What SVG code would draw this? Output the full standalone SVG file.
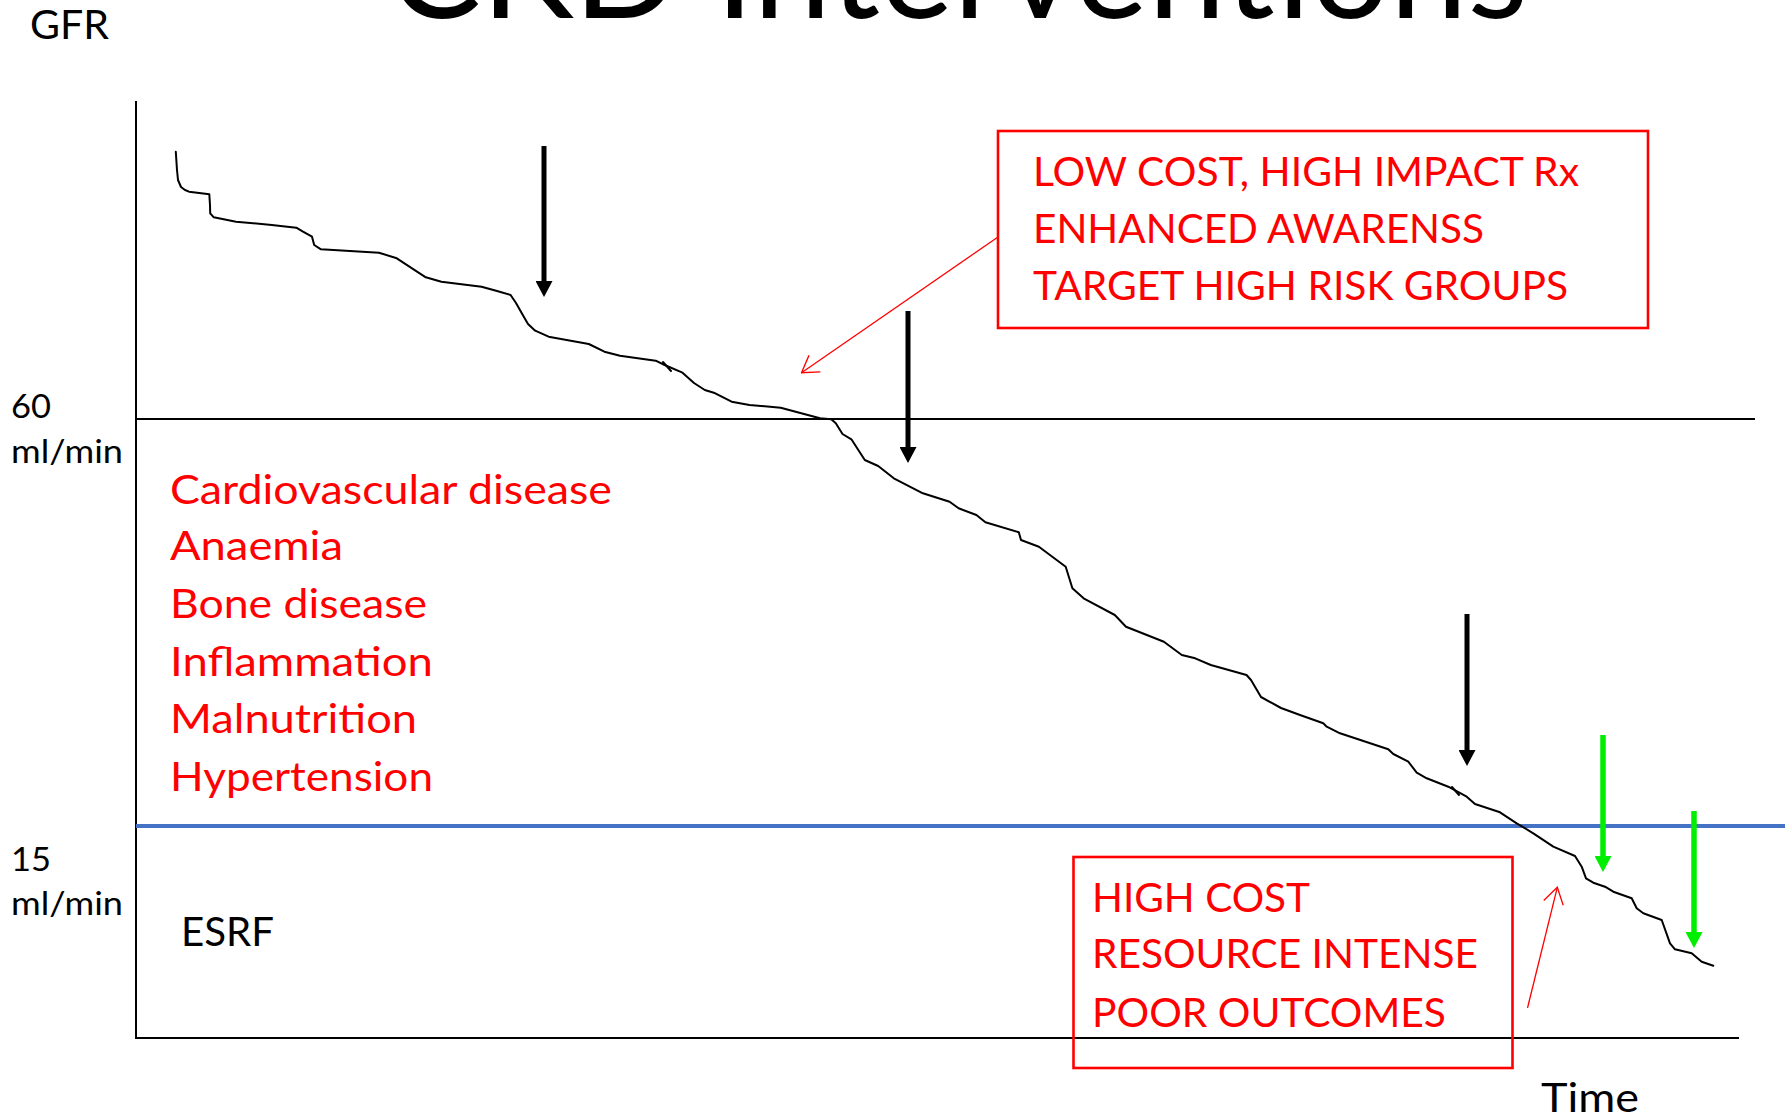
<svg xmlns="http://www.w3.org/2000/svg" width="1785" height="1120" viewBox="0 0 1785 1120">
<defs>
<style>
.lbl{font-family:Lato,"Liberation Sans",sans-serif;fill:#000}
.red{font-family:Lato,"Liberation Sans",sans-serif;fill:#FF0000;font-size:41px}
.ax{stroke:#000;stroke-width:2;fill:none}
.box{fill:none;stroke:#FF0000;stroke-width:2.6}
.blk{stroke:#000;stroke-width:5;fill:none}
.grn{stroke:#00EE00;stroke-width:5.5;fill:none}
.thin{stroke:#FF0000;stroke-width:1.3;fill:none}
</style>
<marker id="hb" viewBox="0 0 16 17" refX="8" refY="8.5" markerWidth="16" markerHeight="17" markerUnits="userSpaceOnUse" orient="auto"><path d="M0,0 L16,8.5 L0,17 z" fill="#000"/></marker>
<marker id="hg" viewBox="0 0 16 17" refX="8" refY="8.5" markerWidth="16" markerHeight="17" markerUnits="userSpaceOnUse" orient="auto"><path d="M0,0 L16,8.5 L0,17 z" fill="#00EE00"/></marker>
<marker id="hr" viewBox="0 0 18 22" refX="17" refY="11" markerWidth="18" markerHeight="22" markerUnits="userSpaceOnUse" orient="auto"><path d="M1,1 L17,11 L1,21" fill="none" stroke="#FF0000" stroke-width="1.3"/></marker>
</defs>
<rect width="1785" height="1120" fill="#fff"/>

<g id="title"><text class="lbl" x="388" y="18" font-size="139" textLength="1140" lengthAdjust="spacingAndGlyphs">CKD Interventions</text></g>

<g id="axes">
<line class="ax" x1="136" y1="101" x2="136" y2="1039"/>
<line class="ax" x1="135" y1="1038" x2="1739" y2="1038"/>
<line class="ax" x1="136" y1="419" x2="1755" y2="419"/>
<line x1="136" y1="826" x2="1785" y2="826" stroke="#4472C4" stroke-width="4"/>
</g>

<g id="axis-labels">
<text class="lbl" x="30" y="38.5" font-size="41" textLength="79" lengthAdjust="spacingAndGlyphs">GFR</text>
<text class="lbl" x="11" y="418" font-size="32" textLength="40" lengthAdjust="spacingAndGlyphs">60</text>
<text class="lbl" x="11" y="463" font-size="32" textLength="112" lengthAdjust="spacingAndGlyphs">ml/min</text>
<text class="lbl" x="11" y="871" font-size="32" textLength="40" lengthAdjust="spacingAndGlyphs">15</text>
<text class="lbl" x="11" y="915" font-size="32" textLength="112" lengthAdjust="spacingAndGlyphs">ml/min</text>
<text class="lbl" x="181" y="946" font-size="41" textLength="93" lengthAdjust="spacingAndGlyphs">ESRF</text>
<text class="lbl" x="1541" y="1112" font-size="41" textLength="98" lengthAdjust="spacingAndGlyphs">Time</text>
</g>

<g id="complications">
<text class="red" x="170" y="504" textLength="442" lengthAdjust="spacingAndGlyphs">Cardiovascular disease</text>
<text class="red" x="170" y="560" textLength="173" lengthAdjust="spacingAndGlyphs">Anaemia</text>
<text class="red" x="170" y="618" textLength="257" lengthAdjust="spacingAndGlyphs">Bone disease</text>
<text class="red" x="170" y="676" textLength="263" lengthAdjust="spacingAndGlyphs">Inflammation</text>
<text class="red" x="170" y="733" textLength="247" lengthAdjust="spacingAndGlyphs">Malnutrition</text>
<text class="red" x="170" y="791" textLength="263" lengthAdjust="spacingAndGlyphs">Hypertension</text>
</g>

<g id="box-early">
<rect class="box" x="998" y="131" width="650" height="197"/>
<text class="red" x="1033" y="186" textLength="546" lengthAdjust="spacingAndGlyphs">LOW COST, HIGH IMPACT Rx</text>
<text class="red" x="1033" y="243" textLength="451" lengthAdjust="spacingAndGlyphs">ENHANCED AWARENSS</text>
<text class="red" x="1033" y="300" textLength="535" lengthAdjust="spacingAndGlyphs">TARGET HIGH RISK GROUPS</text>
</g>

<g id="box-late">
<rect class="box" x="1073.5" y="857" width="439" height="211"/>
<text class="red" x="1092" y="912" textLength="218" lengthAdjust="spacingAndGlyphs">HIGH COST</text>
<text class="red" x="1092" y="968" textLength="386" lengthAdjust="spacingAndGlyphs">RESOURCE INTENSE</text>
<text class="red" x="1092" y="1027" textLength="354" lengthAdjust="spacingAndGlyphs">POOR OUTCOMES</text>
</g>

<g id="gfr-curve" fill="none" stroke="#000" stroke-width="2" stroke-linejoin="round" stroke-linecap="round">
<path d="M175.8,151.7 L177,170 L178,180 L181,187 L185,190 L189,191.7 L209.3,194.3 L210,205 L210.2,213.3 L213.8,217.3 L236,221.7 L271.8,225 L296.3,227.7 L303,231.7 L312,236.7 L314.2,245 L321,249.3 L379,252.7 L396.8,258.3 L425.8,277.3 L441.4,281.7 L481.6,286.7 L497,291 L510.6,295 L516,303 L521.8,313.3 L528,324 L535.2,330.7 L548.6,336.7 L588.8,344 L604.4,351.7 L620,355.7 L655.7,360.7 L664.6,365 L682.5,372.7 L694,383 L704.8,390 L713.8,392.7 L731.6,401.7 L749.5,405 L780.7,407.7 L820,418.3 L831.3,419.3 L835.8,423.3 L842.5,434 L851.4,439.3 L864.8,460 L878.2,466 L893.8,478.3 L922.9,493.3 L949.6,501.7 L958.6,508.3 L976.4,515 L985.4,522.3 L1018.8,532.3 L1021,540 L1038.9,546.7 L1065.7,566.7 L1072.4,588.3 L1083.6,598.3 L1114.8,615 L1126,626.7 L1163.9,641.7 L1181.8,655 L1195.2,658.3 L1210.8,665 L1246.5,675 L1251,680 L1261,697 L1281,708 L1300,715 L1323.3,723.3 L1326.7,726.7 L1340,733.3 L1388.3,749.3 L1393.3,754 L1408.3,761.7 L1416.7,772.7 L1426.7,778.3 L1448.3,786.7 L1466.7,796.7 L1475,804 L1500,812.3 L1516.7,823.3 L1533.3,833.3 L1553.3,846.7 L1575,856 L1581.7,866.7 L1586,878.3 L1593.3,882.7 L1605,886.7 L1613.3,891.7 L1631.7,898.3 L1636.7,908.3 L1643.3,913.3 L1661.7,920 L1670,943.3 L1675,949.3 L1691.7,953.3 L1701.7,961.7 L1713.3,965.7"/>
<path d="M663,362 L671,371"/>
<path d="M1452,787 L1459,795"/>
</g>

<g id="connectors">
<line class="blk" x1="544" y1="146" x2="544" y2="289" marker-end="url(#hb)"/>
<line class="blk" x1="908" y1="311" x2="908" y2="455" marker-end="url(#hb)"/>
<line class="blk" x1="1467" y1="614" x2="1467" y2="758" marker-end="url(#hb)"/>
<line class="grn" x1="1603" y1="735" x2="1603" y2="864" marker-end="url(#hg)"/>
<line class="grn" x1="1694" y1="811" x2="1694" y2="940" marker-end="url(#hg)"/>
<line class="thin" x1="998" y1="237" x2="801.5" y2="372.7" marker-end="url(#hr)"/>
<line class="thin" x1="1527.5" y1="1008" x2="1557.3" y2="887.3" marker-end="url(#hr)"/>
</g>
</svg>
